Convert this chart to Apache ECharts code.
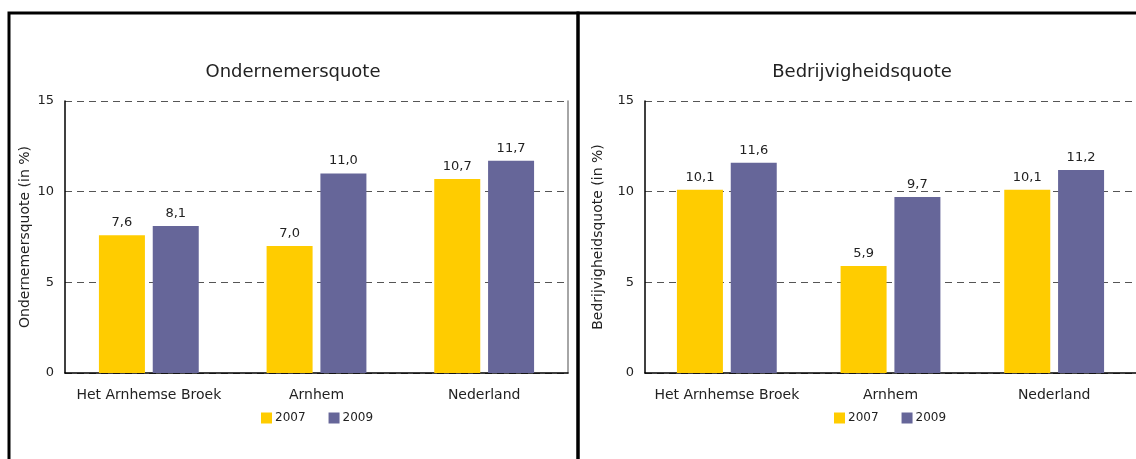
<!DOCTYPE html>
<html>
<head>
<meta charset="utf-8">
<style>
html,body{margin:0;padding:0;background:#fff;}
#c{width:1136px;height:459px;}
</style>
<script src="https://cdn.jsdelivr.net/npm/echarts@6/dist/echarts.min.js"></script>
</head>
<body>
<div id="c"></div>
<script>
const categories = ['Het Arnhemse Broek', 'Arnhem', 'Nederland'];
const seriesNames = ['2007', '2009'];
const onder2007 = [7.6, 7.0, 10.7];
const onder2009 = [8.1, 11.0, 11.7];
const bedr2007 = [10.1, 5.9, 10.1];
const bedr2009 = [11.6, 9.7, 11.2];
const titles = ['Ondernemersquote', 'Bedrijvigheidsquote'];
const yNames = ['Ondernemersquote (in %)', 'Bedrijvigheidsquote (in %)'];

const FONT = 'DejaVu Sans';
const YELLOW = '#FFCC00';
const PURPLE = '#666699';
const fmt = p => p.value.toFixed(1).replace('.', ',');

const chart = echarts.init(document.getElementById('c'), null, {renderer: 'canvas'});

function xAxis(gi) {
  return {
    type: 'category', gridIndex: gi, data: categories,
    axisLine: {show: true, lineStyle: {color: '#000', width: 1.5}},
    axisTick: {show: false},
    axisLabel: {fontFamily: FONT, fontSize: 14, color: '#222', margin: 15, interval: 0}
  };
}
function yAxis(gi, name, gap) {
  return {
    type: 'value', gridIndex: gi, min: 0, max: 15, interval: 5,
    name: name, nameLocation: 'middle', nameGap: gap,
    nameTextStyle: {fontFamily: FONT, fontSize: 14, color: '#222'},
    axisLine: {show: true, lineStyle: {color: '#000', width: 1.5}},
    axisTick: {show: false},
    axisLabel: {fontFamily: FONT, fontSize: 13, color: '#222', margin: 11, padding: [3, 0, 0, 0]},
    splitLine: {show: true, lineStyle: {color: '#555', type: [7, 5], width: 1}}
  };
}
function yRight(gi) {
  return {
    type: 'value', gridIndex: gi, min: 0, max: 15, interval: 5, position: 'right',
    axisLine: {show: true, lineStyle: {color: '#888', width: 1.5}},
    axisTick: {show: false}, axisLabel: {show: false}, splitLine: {show: false}
  };
}
function bar(name, data, gi, yi, color) {
  return {
    type: 'bar', name: name, data: data,
    xAxisIndex: gi, yAxisIndex: yi,
    barWidth: 46, barGap: '17%',
    itemStyle: {color: color},
    label: {show: true, position: 'top', distance: 6, formatter: fmt,
            fontFamily: FONT, fontSize: 13, color: '#222'}
  };
}

chart.setOption({
  animation: false,
  backgroundColor: '#fff',
  title: [
    {text: titles[0], left: 293, top: 63, textAlign: 'center', padding: 0,
     textStyle: {fontFamily: FONT, fontSize: 18, fontWeight: 'normal', color: '#222'}},
    {text: titles[1], left: 862, top: 63, textAlign: 'center', padding: 0,
     textStyle: {fontFamily: FONT, fontSize: 18, fontWeight: 'normal', color: '#222'}}
  ],
  legend: [
    {data: seriesNames, left: 256, top: 407, itemWidth: 11, itemHeight: 11, itemGap: 23,
     icon: 'rect', textStyle: {fontFamily: FONT, fontSize: 12, color: '#222', padding: [0, 0, 0, -2]}},
    {data: seriesNames, left: 829, top: 407, itemWidth: 11, itemHeight: 11, itemGap: 23,
     icon: 'rect', textStyle: {fontFamily: FONT, fontSize: 12, color: '#222', padding: [0, 0, 0, -2]}}
  ],
  grid: [
    {left: 65, top: 101, width: 503, height: 272},
    {left: 645, top: 101, width: 497, height: 272}
  ],
  xAxis: [xAxis(0), xAxis(1)],
  yAxis: [yAxis(0, yNames[0], 33), yRight(0), yAxis(1, yNames[1], 40)],
  series: [
    bar('2007', onder2007, 0, 0, YELLOW),
    bar('2009', onder2009, 0, 0, PURPLE),
    bar('2007', bedr2007, 1, 2, YELLOW),
    bar('2009', bedr2009, 1, 2, PURPLE)
  ],
  graphic: [
    {type: 'rect', shape: {x: 9, y: 13, width: 569, height: 500},
     style: {fill: null, stroke: '#000', lineWidth: 3}, silent: true},
    {type: 'rect', shape: {x: 578, y: 13, width: 650, height: 500},
     style: {fill: null, stroke: '#000', lineWidth: 3}, silent: true}
  ]
});
</script>
</body>
</html>
